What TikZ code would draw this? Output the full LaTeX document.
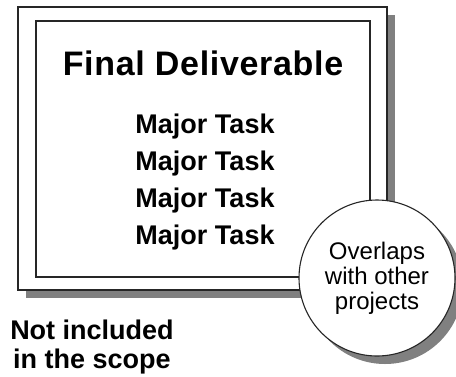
\documentclass[tikz,border=0pt]{standalone}
\usepackage{fontspec}
\setmainfont{Liberation Sans}
\usetikzlibrary{shadows}
\tikzset{
  shade box/.style={draw=black!85, line width=1.1pt, fill=white,
    drop shadow={shadow xshift=8pt, shadow yshift=-8pt, fill=black!50, opacity=1}},
  frame/.style={draw=black!85, line width=1.1pt},
  task/.style={font=\bfseries\fontsize{27}{30}\selectfont, anchor=base}
}
\begin{document}
\begin{tikzpicture}[x=1pt, y=-1pt]
\useasboundingbox (0,0) rectangle (456,376);
% scope box
\node[shade box, minimum width=369pt, minimum height=283pt] (outer) at (202.5,148.5) {};
\node[frame, minimum width=334pt, minimum height=256pt] (inner) at (203,149) {};
\node[anchor=base, font=\bfseries\fontsize{34}{36}\selectfont\addfontfeatures{LetterSpace=2}] (final) at (203,75) {Final Deliverable};
\foreach \i/\y in {1/133, 2/170, 3/207, 4/244}
  \node[task] (task\i) at (205,\y) {Major Task};
% overlap
\node[shade box, circle, minimum size=156pt, inner sep=0pt, align=center,
  font=\fontsize{24}{25}\selectfont] (overlap) at (377,278) {Overlaps\\with other\\projects};
% outside
\node[anchor=base, font=\bfseries\fontsize{27}{29}\selectfont] (notin1) at (92,339) {Not included};
\node[anchor=base, font=\bfseries\fontsize{27}{29}\selectfont] (notin2) at (92,368) {in the scope};
\end{tikzpicture}
\end{document}
